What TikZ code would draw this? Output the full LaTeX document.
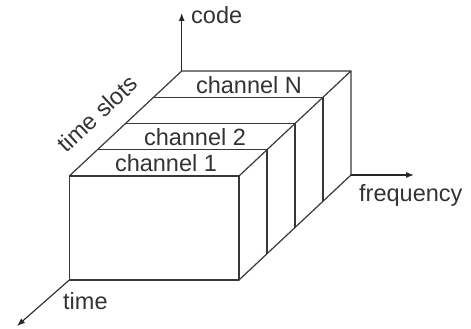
\documentclass[tikz,border=0pt]{standalone}
\usepackage{fontspec}
\setmainfont{Liberation Sans}
\usetikzlibrary{arrows.meta,calc}
\begin{document}
\begin{tikzpicture}[x=1pt,y=-1pt,
  edge/.style={draw=black!78,line width=1.2pt,line join=round},
  axis/.style={draw=black!85,line width=1.1pt,-{Latex[length=8pt,width=6pt]}},
  lbl/.style={inner sep=0pt,text=black!80,font=\fontsize{23.5}{27}\selectfont}]
\useasboundingbox (0,0) rectangle (471,329);
% corners
\coordinate (ftl) at (69.3,176);
\coordinate (ftr) at (239,176);
\coordinate (fbl) at (69.3,280);
\coordinate (fbr) at (239,280);
\coordinate (btl) at (181.7,71);
\coordinate (btr) at (351,71);
\coordinate (bbr) at (351,175);
% front face
\draw[edge] (ftl) rectangle (fbr);
% top face and right face outline
\draw[edge] (ftl) -- (btl) -- (btr) -- (ftr);
\draw[edge] (fbr) -- (bbr) -- (btr);
% slices
\foreach \t/\n in {0.25/a,0.5/b,0.75/c}{
  \coordinate (sl\n) at ($(ftl)!\t!(btl)$);
  \coordinate (sr\n) at ($(ftr)!\t!(btr)$);
  \coordinate (sb\n) at ($(fbr)!\t!(bbr)$);
  \draw[edge] (sl\n) -- (sr\n) -- (sb\n);
}
% axes
\coordinate (codeend) at (181.7,13);
\coordinate (freqend) at (414,175);
\coordinate (timeend) at (17,326);
\draw[axis] (btl) -- (codeend);
\draw[axis] (bbr) -- (freqend);
\draw[axis] (fbl) -- (timeend);
% labels
\node[lbl,anchor=west] (code) at (191,15) {code};
\node[lbl,anchor=west] (freq) at (359,195) {frequency};
\node[lbl,anchor=west] (time) at (63,301) {time};
\node[lbl,rotate=43] (slots) at (97.5,113.5) {time slots};
\node[lbl] (ch1) at (166,163) {channel 1};
\node[lbl] (ch2) at (195,137) {channel 2};
\node[lbl] (chN) at (249,85.5) {channel N};
\end{tikzpicture}
\end{document}
